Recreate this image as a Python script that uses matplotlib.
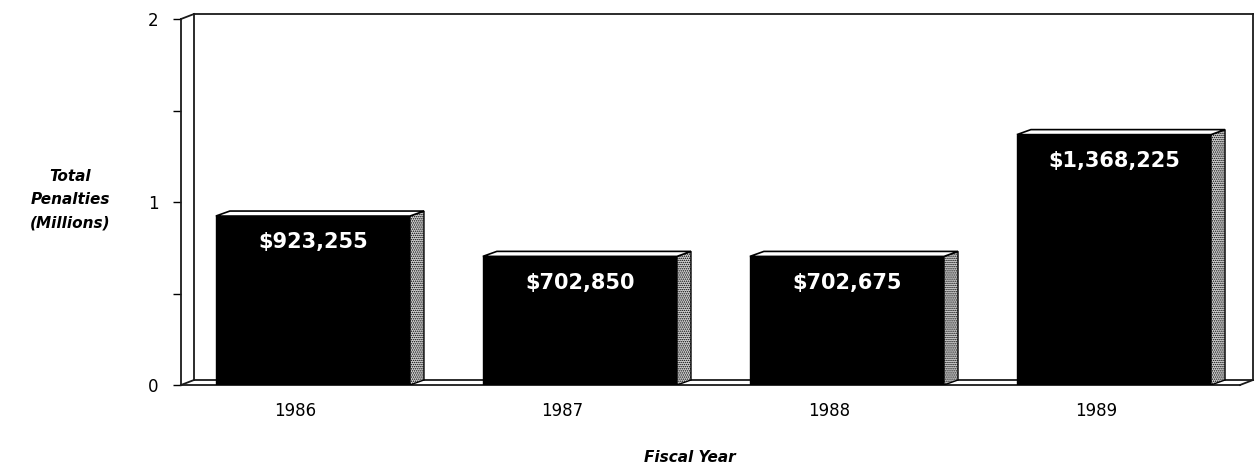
import numpy as np
import matplotlib
matplotlib.use("Agg")
import matplotlib.pyplot as plt
from matplotlib.patches import Polygon

years = ["1986", "1987", "1988", "1989"]
penalties = [923255, 702850, 702675, 1368225]
bar_labels = ["$923,255", "$702,850", "$702,675", "$1,368,225"]

plt.rcParams['font.family'] = ['DejaVu Sans']
plt.rcParams['hatch.linewidth'] = 0.7

fig = plt.figure(figsize=(12.56, 4.71), dpi=100)
ax = fig.add_axes([181 / 1256, 1 - 385 / 471, (1240 - 181) / 1256, (385 - 19) / 471])

xl, xr = -0.427, 3.539
ax.set_xlim(xl, xr)
ax.set_ylim(0, 2)

vals = np.array(penalties) / 1e6
x = np.arange(len(years))


def px_to_data(dxp, dyp):
    p0 = ax.transData.transform((0, 0))
    d = ax.transData.inverted().transform(p0 + np.array([dxp, dyp]))
    return d[0], d[1]


# depth of the back wall and of the bars, in pixels
dx, dy = px_to_data(13, 5)
bx, by = px_to_data(14, 5)

# back wall and floor
lw = 1.3
frame = [
    ([xl, xl + dx], [2, 2 + dy]),
    ([xl + dx, xl + dx], [dy, 2 + dy]),
    ([xl + dx, xr + dx], [2 + dy, 2 + dy]),
    ([xr + dx, xr + dx], [dy, 2 + dy]),
    ([xl + dx, xr + dx], [dy, dy]),
    ([xl, xl + dx], [0, dy]),
    ([xr, xr + dx], [0, dy]),
]
for fx, fy in frame:
    ax.plot(fx, fy, color="#1a1a1a", lw=lw, clip_on=False, zorder=1)

bars = ax.bar(x + 0.067, vals, width=0.727, color="black", edgecolor="black",
              lw=1, zorder=3)

for b, lab in zip(bars, bar_labels):
    x0 = b.get_x()
    x1 = x0 + b.get_width()
    h = b.get_height()
    side = Polygon([(x1, 0), (x1 + bx, by), (x1 + bx, h + by), (x1, h)],
                   closed=True, facecolor="#d4d4d4", edgecolor="black",
                   hatch="........", lw=1, zorder=3)
    top = Polygon([(x0, h), (x1, h), (x1 + bx, h + by), (x0 + bx, h + by)],
                  closed=True, facecolor="white", edgecolor="black", lw=1.2, zorder=3)
    ax.add_patch(side)
    ax.add_patch(top)
    ax.annotate(lab, (x0 + b.get_width() / 2, h), xytext=(0, -19),
                textcoords="offset points", ha="center", va="center",
                color="white", fontsize=15, fontweight="bold", zorder=4)

for s in ["top", "right"]:
    ax.spines[s].set_visible(False)
ax.spines["left"].set_linewidth(lw)
ax.spines["bottom"].set_linewidth(lw)
ax.spines["left"].set_color("#1a1a1a")
ax.spines["bottom"].set_color("#1a1a1a")

ax.set_yticks([0, 0.5, 1, 1.5, 2])
ax.set_yticklabels(["0", "", "1", "", "2"])
ax.tick_params(axis="y", length=6, width=1, pad=10, labelsize=12)
ax.set_xticks(x)
ax.set_xticklabels(years)
ax.tick_params(axis="x", length=0, pad=12, labelsize=12)

fig.text(70 / 1256, 1 - 200 / 471, "Total\nPenalties\n(Millions)", ha="center",
         va="center", fontsize=11, fontweight="bold", style="italic",
         linespacing=1.7)
fig.text(690 / 1256, 1 - 458 / 471, "Fiscal Year", ha="center", va="center",
         fontsize=11, fontweight="bold", style="italic")

fig.savefig("out.png", dpi=100)
